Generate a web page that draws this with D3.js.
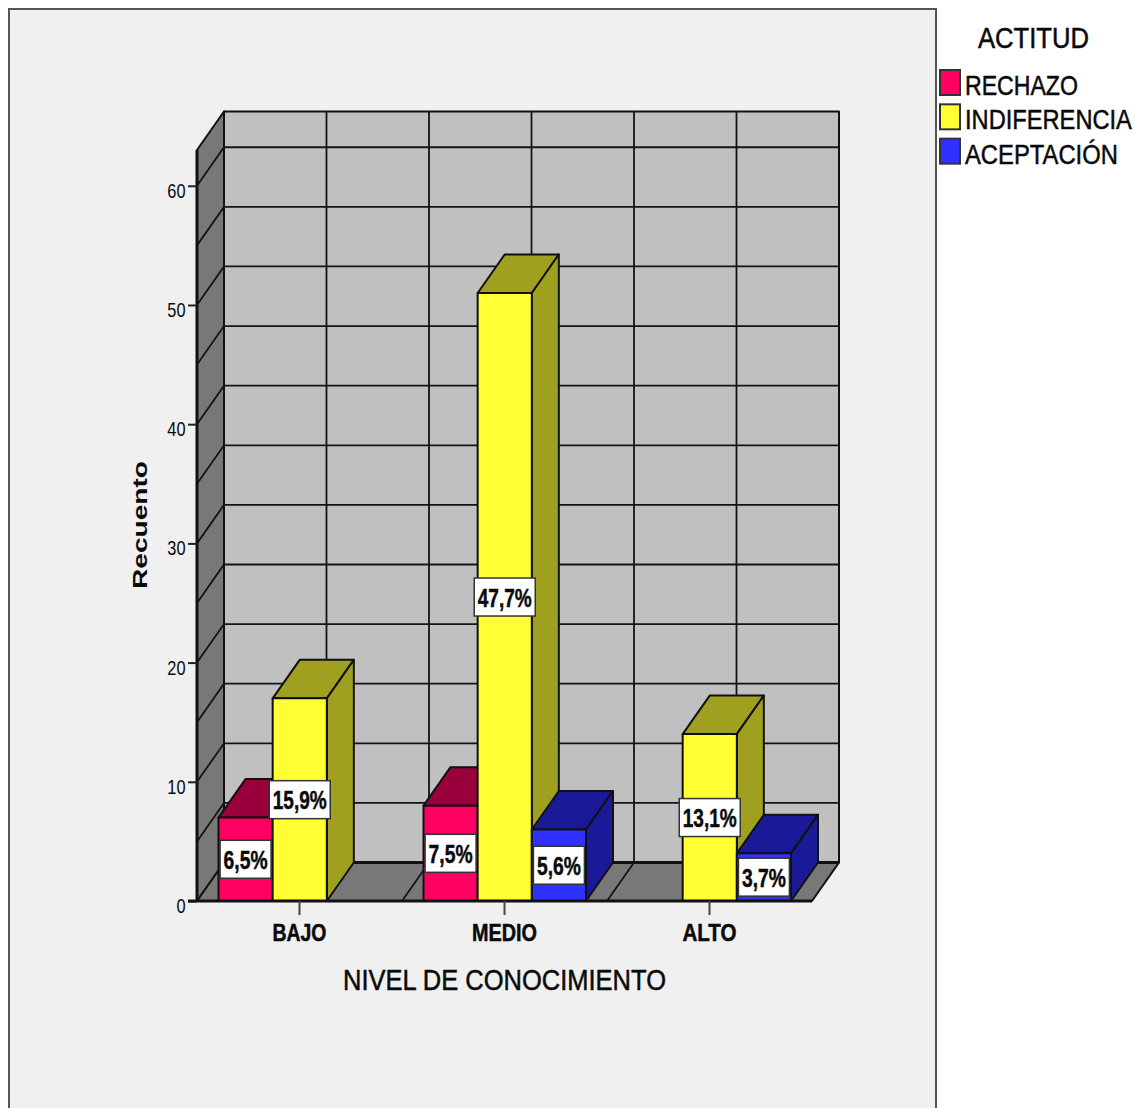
<!DOCTYPE html>
<html lang="es">
<head>
<meta charset="utf-8">
<title>Actitud según nivel de conocimiento</title>
<script src="https://cdn.jsdelivr.net/npm/d3@7/dist/d3.min.js"></script>
<style>
  html, body { margin: 0; padding: 0; background: #fff; }
  svg { display: block; }
  text { fill: #0a0a0a; font-family: "Liberation Sans", Arial, sans-serif; }
</style>
</head>
<body>
<svg id="chart" width="1145" height="1108"></svg>
<script>
// Counts per attitude for each knowledge level; null means no bar is drawn.
const niveles = ["BAJO", "MEDIO", "ALTO"];
const actitudes = ["RECHAZO", "INDIFERENCIA", "ACEPTACIÓN"];
const rechazo = [7, 8, null];
const indiferencia = [17, 51, 14];
const aceptacion = [null, 6, 4];
const etiquetasRechazo = ["6,5%", "7,5%", null];
const etiquetasIndiferencia = ["15,9%", "47,7%", "13,1%"];
const etiquetasAceptacion = [null, "5,6%", "3,7%"];
const marcasY = [0, 10, 20, 30, 40, 50, 60];
const rejillaY = [5, 10, 15, 20, 25, 30, 35, 40, 45, 50, 55, 60];
const coloresFrente = ["#ff0062", "#ffff33", "#3030ff"];
const coloresLado = ["#99003c", "#a0a020", "#1a1a99"];

const svg = d3.select("#chart");
const depthX = 27, depthY = -38.5;

const x = d3.scaleBand().domain(niveles).range([197, 812]);
const xInner = d3.scaleBand().domain(actitudes).range([21.5, 184]);
const y = d3.scaleLinear().domain([0, 63]).range([901, 150]);
const wallGrid = d3.range(0, 7).map(i => 197 + i * x.bandwidth() / 2);

const line = d3.line();
const poly = pts => line(pts) + "Z";
const back = ([px, py]) => [px + depthX, py + depthY];

// Text squeezed or stretched sideways to a fixed rendered width.
function fitted(parent, txt, px, by, size, width, weight, anchor) {
  const t = parent.append("text").attr("font-size", size).attr("font-weight", weight || "normal")
    .attr("text-anchor", anchor || "middle").text(txt);
  const sx = width / t.node().getComputedTextLength();
  t.attr("transform", `translate(${px},${by}) scale(${sx},1)`)
    .attr("stroke", "#0a0a0a").attr("stroke-width", 0.5);
  return t;
}

// Chart panel: grey frame running off the bottom edge of the page.
svg.append("rect").attr("x", 9).attr("y", 9).attr("width", 927).attr("height", 1120)
  .attr("fill", "#f0f0f0").attr("stroke", "#555").attr("stroke-width", 2);

// Box of the 3D plot: back wall, left wall and floor.
const x0 = x.range()[0], x1 = x.range()[1], yBase = y(0), yTop = y(63);
const walls = svg.append("g").attr("stroke", "#111").attr("stroke-width", 2).attr("stroke-linejoin", "round");
walls.append("path").attr("fill", "#c0c0c0")
  .attr("d", poly([back([x0, yBase]), back([x1, yBase]), back([x1, yTop]), back([x0, yTop])]));
walls.append("path").attr("fill", "#787878")
  .attr("d", poly([[x0, yBase], back([x0, yBase]), back([x0, yTop]), [x0, yTop]]));
walls.append("path").attr("fill", "#787878")
  .attr("d", poly([[x0, yBase], [x1, yBase], back([x1, yBase]), back([x0, yBase])]));

// Grid lines on the walls and floor.
const grid = svg.append("g").attr("fill", "none").attr("stroke", "#141414").attr("stroke-width", 1.8);
rejillaY.forEach(v => {
  grid.append("path").attr("d", line([[x0, y(v)], back([x0, y(v)]), back([x1, y(v)])]));
});
wallGrid.slice(1, -1).forEach(gx => {
  grid.append("path").attr("d", line([[gx, yBase], back([gx, yBase]), back([gx, yTop])]));
});
svg.append("path").attr("stroke", "#111").attr("stroke-width", 3)
  .attr("d", line([back([x0, yBase]), back([x1, yBase])]));

// Bars, painted left to right so each one covers the side of its neighbour.
const series = [rechazo, indiferencia, aceptacion];
const etiquetas = [etiquetasRechazo, etiquetasIndiferencia, etiquetasAceptacion];
const bars = svg.append("g").attr("stroke", "#111").attr("stroke-width", 2).attr("stroke-linejoin", "round");
niveles.forEach((nivel, i) => {
  actitudes.forEach((actitud, s) => {
    const v = series[s][i];
    if (v === null) return;
    const l = x(nivel) + xInner(actitud), r = l + xInner.bandwidth(), t = y(v);
    bars.append("path").attr("fill", coloresLado[s])
      .attr("d", poly([[l, t], [r, t], back([r, t]), back([l, t])]));
    bars.append("path").attr("fill", coloresLado[s])
      .attr("d", poly([[r, t], [r, yBase], back([r, yBase]), back([r, t])]));
    bars.append("rect").attr("x", l).attr("y", t).attr("width", r - l).attr("height", yBase - t)
      .attr("fill", coloresFrente[s]);
  });
});

// Axes.
const axisY = svg.append("g").attr("transform", `translate(${x0},0)`)
  .call(d3.axisLeft(y).tickValues(marcasY).tickSize(9).tickPadding(3));
axisY.select(".domain").attr("d", line([[0, yTop], [0, yBase]])).attr("stroke", "#111").attr("stroke-width", 3).attr("fill", "none");
axisY.selectAll(".tick line").attr("stroke", "#222").attr("stroke-width", 2);
axisY.selectAll(".tick text").attr("font-size", 20).attr("dy", "0.72em")
  .attr("y", -3).attr("transform", "scale(0.82,1)").attr("x", -11.5 / 0.82)
  .attr("fill", "#222");

const axisX = svg.append("g").attr("transform", `translate(0,${yBase})`)
  .call(d3.axisBottom(x).tickSize(14).tickPadding(0));
axisX.select(".domain").attr("d", line([[x0 - 9, 0], [x1, 0]])).attr("stroke", "#111").attr("stroke-width", 3).attr("fill", "none");
axisX.selectAll(".tick line").attr("stroke", "#444").attr("stroke-width", 2);
const anchoNivel = { BAJO: 54, MEDIO: 65, ALTO: 54 };
axisX.selectAll(".tick text").remove();
niveles.forEach(n => {
  fitted(axisX, n, x(n) + x.bandwidth() / 2, 39.5, 24, anchoNivel[n], "bold");
});

fitted(svg, "NIVEL DE CONOCIMIENTO", 504.5, 990, 29, 323);
const tituloY = svg.append("text").attr("font-size", 21).attr("font-weight", "bold")
  .attr("text-anchor", "middle").text("Recuento");
const sxTitulo = 128 / tituloY.node().getComputedTextLength();
tituloY.attr("transform", `translate(147,525) rotate(-90) scale(${sxTitulo},1)`);

// Value labels sit at the vertical middle of their bars.
const labels = svg.append("g");
niveles.forEach((nivel, i) => {
  actitudes.forEach((actitud, s) => {
    const v = series[s][i];
    if (v === null) return;
    const txt = etiquetas[s][i];
    const cx = x(nivel) + xInner(actitud) + xInner.bandwidth() / 2;
    const cy = (y(v) + yBase) / 2;
    const long = txt.length > 4;
    const w = long ? 61 : 51;
    labels.append("rect").attr("x", cx - w / 2).attr("y", cy - 19).attr("width", w).attr("height", 38)
      .attr("fill", "#fff").attr("stroke", "#333").attr("stroke-width", 1.5);
    fitted(labels, txt, cx, cy + 9.5, 26, long ? 54 : 44, "bold");
  });
});

// Legend.
const legend = svg.append("g");
fitted(legend, "ACTITUD", 1033.5, 48, 29, 111);
const legendWidths = [113, 167, 153];
const legendY = d3.scaleBand().domain(actitudes).range([69, 172]);
actitudes.forEach((a, s) => {
  const top = legendY(a);
  legend.append("rect").attr("x", 940).attr("y", top + 1).attr("width", 20).attr("height", 25)
    .attr("fill", coloresFrente[s]).attr("stroke", "#333").attr("stroke-width", 2);
  fitted(legend, a, 965, top + 26, 28, legendWidths[s], "normal", "start");
});
</script>
</body>
</html>
